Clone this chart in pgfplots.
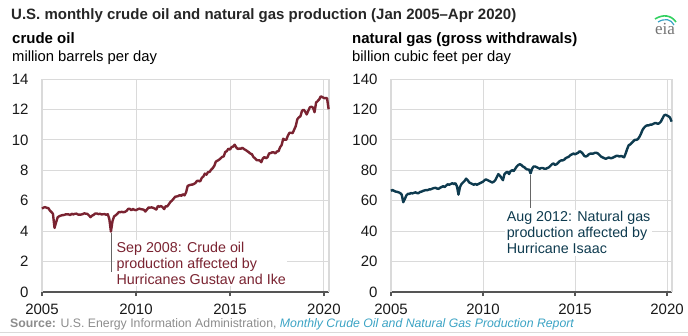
\documentclass[border=0pt]{standalone}
\usepackage{pgfplots}
\pgfplotsset{compat=1.18}
\usepackage{pgfplotstable}
\usepackage{fontspec}
\setmainfont{Liberation Sans}
\newfontfamily\seriffont{Liberation Serif}
\definecolor{oil}{HTML}{7A2331}
\definecolor{gas}{HTML}{0E3B4F}
\definecolor{gridc}{HTML}{DADADA}
\definecolor{axisc}{HTML}{555555}
\definecolor{srcgray}{HTML}{8C8C8C}
\definecolor{srcblue}{HTML}{3BA3C4}

\pgfplotstableread{
y m v
2005 1 5.48
2005 2 5.55
2005 3 5.58
2005 4 5.53
2005 5 5.52
2005 6 5.36
2005 7 5.26
2005 8 5.14
2005 9 4.21
2005 10 4.58
2005 11 4.91
2005 12 4.98
2006 1 5.02
2006 2 5.05
2006 3 5.06
2006 4 5.10
2006 5 5.11
2006 6 5.10
2006 7 5.06
2006 8 5.14
2006 9 5.10
2006 10 5.14
2006 11 5.15
2006 12 5.09
2007 1 5.09
2007 2 5.09
2007 3 5.12
2007 4 5.17
2007 5 5.15
2007 6 5.13
2007 7 5.03
2007 8 4.92
2007 9 5.02
2007 10 5.07
2007 11 5.16
2007 12 5.16
2008 1 5.12
2008 2 5.14
2008 3 5.10
2008 4 5.11
2008 5 5.12
2008 6 5.07
2008 7 5.12
2008 8 4.79
2008 9 3.97
2008 10 4.65
2008 11 4.96
2008 12 5.04
2009 1 5.13
2009 2 5.25
2009 3 5.25
2009 4 5.27
2009 5 5.24
2009 6 5.27
2009 7 5.33
2009 8 5.46
2009 9 5.47
2009 10 5.37
2009 11 5.46
2009 12 5.40
2010 1 5.38
2010 2 5.43
2010 3 5.48
2010 4 5.45
2010 5 5.43
2010 6 5.41
2010 7 5.29
2010 8 5.42
2010 9 5.55
2010 10 5.55
2010 11 5.56
2010 12 5.53
2011 1 5.48
2011 2 5.42
2011 3 5.65
2011 4 5.61
2011 5 5.65
2011 6 5.57
2011 7 5.45
2011 8 5.64
2011 9 5.63
2011 10 5.77
2011 11 5.92
2011 12 6.01
2012 1 6.13
2012 2 6.26
2012 3 6.28
2012 4 6.31
2012 5 6.37
2012 6 6.32
2012 7 6.43
2012 8 6.35
2012 9 6.55
2012 10 6.97
2012 11 7.02
2012 12 7.05
2013 1 7.06
2013 2 7.10
2013 3 7.17
2013 4 7.31
2013 5 7.30
2013 6 7.27
2013 7 7.50
2013 8 7.59
2013 9 7.78
2013 10 7.71
2013 11 7.88
2013 12 7.89
2014 1 8.04
2014 2 8.14
2014 3 8.29
2014 4 8.57
2014 5 8.63
2014 6 8.69
2014 7 8.78
2014 8 8.88
2014 9 8.91
2014 10 9.20
2014 11 9.26
2014 12 9.42
2015 1 9.36
2015 2 9.52
2015 3 9.56
2015 4 9.68
2015 5 9.51
2015 6 9.40
2015 7 9.43
2015 8 9.42
2015 9 9.48
2015 10 9.39
2015 11 9.34
2015 12 9.26
2016 1 9.19
2016 2 9.10
2016 3 9.06
2016 4 8.87
2016 5 8.79
2016 6 8.67
2016 7 8.66
2016 8 8.65
2016 9 8.53
2016 10 8.78
2016 11 8.87
2016 12 8.79
2017 1 8.86
2017 2 9.11
2017 3 9.13
2017 4 9.18
2017 5 9.18
2017 6 9.11
2017 7 9.24
2017 8 9.25
2017 9 9.51
2017 10 9.66
2017 11 10.07
2017 12 10.01
2018 1 10.01
2018 2 10.28
2018 3 10.46
2018 4 10.47
2018 5 10.44
2018 6 10.67
2018 7 10.90
2018 8 11.35
2018 9 11.48
2018 10 11.55
2018 11 11.91
2018 12 11.98
2019 1 11.87
2019 2 11.67
2019 3 11.91
2019 4 12.14
2019 5 12.18
2019 6 12.12
2019 7 11.82
2019 8 12.45
2019 9 12.55
2019 10 12.66
2019 11 12.86
2019 12 12.81
2020 1 12.75
2020 2 12.74
2020 3 12.74
2020 4 12.01
}\oiltable

\pgfplotstableread{
y m v
2005 1 66.5
2005 2 67.0
2005 3 66.5
2005 4 66.0
2005 5 65.8
2005 6 65.5
2005 7 65.0
2005 8 64.0
2005 9 59.0
2005 10 61.0
2005 11 63.5
2005 12 64.5
2006 1 64.5
2006 2 65.0
2006 3 64.8
2006 4 65.2
2006 5 65.5
2006 6 65.0
2006 7 65.0
2006 8 65.8
2006 9 66.0
2006 10 66.5
2006 11 66.8
2006 12 67.0
2007 1 67.0
2007 2 67.5
2007 3 67.5
2007 4 68.0
2007 5 68.3
2007 6 68.5
2007 7 68.0
2007 8 67.8
2007 9 68.5
2007 10 69.0
2007 11 69.5
2007 12 69.0
2008 1 70.0
2008 2 70.8
2008 3 70.5
2008 4 71.0
2008 5 71.5
2008 6 71.0
2008 7 71.5
2008 8 69.5
2008 9 64.0
2008 10 69.0
2008 11 71.0
2008 12 72.0
2009 1 73.0
2009 2 74.5
2009 3 73.5
2009 4 72.0
2009 5 71.5
2009 6 71.0
2009 7 70.5
2009 8 71.0
2009 9 70.5
2009 10 71.0
2009 11 71.5
2009 12 72.0
2010 1 72.5
2010 2 73.5
2010 3 74.0
2010 4 73.5
2010 5 73.0
2010 6 72.5
2010 7 72.0
2010 8 72.5
2010 9 73.5
2010 10 75.5
2010 11 77.5
2010 12 76.5
2011 1 75.0
2011 2 73.5
2011 3 77.5
2011 4 78.5
2011 5 79.0
2011 6 77.5
2011 7 79.5
2011 8 80.0
2011 9 79.5
2011 10 81.0
2011 11 82.5
2011 12 83.5
2012 1 84.0
2012 2 83.5
2012 3 82.5
2012 4 82.0
2012 5 81.0
2012 6 80.5
2012 7 80.5
2012 8 78.0
2012 9 81.0
2012 10 82.5
2012 11 82.5
2012 12 82.0
2013 1 81.5
2013 2 81.0
2013 3 81.5
2013 4 81.5
2013 5 81.0
2013 6 81.0
2013 7 81.5
2013 8 82.0
2013 9 83.0
2013 10 84.0
2013 11 84.5
2013 12 83.5
2014 1 84.0
2014 2 85.0
2014 3 86.0
2014 4 86.5
2014 5 86.5
2014 6 87.0
2014 7 88.0
2014 8 88.5
2014 9 89.0
2014 10 90.0
2014 11 90.5
2014 12 91.0
2015 1 90.5
2015 2 91.0
2015 3 91.5
2015 4 92.5
2015 5 92.0
2015 6 91.0
2015 7 89.5
2015 8 89.0
2015 9 89.5
2015 10 90.5
2015 11 91.0
2015 12 91.0
2016 1 91.0
2016 2 91.5
2016 3 91.5
2016 4 91.0
2016 5 90.0
2016 6 89.0
2016 7 88.5
2016 8 88.0
2016 9 87.5
2016 10 88.0
2016 11 88.5
2016 12 88.0
2017 1 88.0
2017 2 88.5
2017 3 89.0
2017 4 89.5
2017 5 89.5
2017 6 89.0
2017 7 89.5
2017 8 89.0
2017 9 88.5
2017 10 91.0
2017 11 94.0
2017 12 96.5
2018 1 97.0
2018 2 98.0
2018 3 99.0
2018 4 100.0
2018 5 100.0
2018 6 100.5
2018 7 102.0
2018 8 104.0
2018 9 106.5
2018 10 108.0
2018 11 109.0
2018 12 109.5
2019 1 109.5
2019 2 110.0
2019 3 110.0
2019 4 110.5
2019 5 111.0
2019 6 111.0
2019 7 110.5
2019 8 111.0
2019 9 112.0
2019 10 114.0
2019 11 116.0
2019 12 116.5
2020 1 116.0
2020 2 115.5
2020 3 114.5
2020 4 112.0
}\gastable

\pgfplotsset{
  eiastyle/.style={
    scale only axis,
    xmin=2005, xmax=2020.27,
    ymin=0,
    xtick={2005,2010,2015,2020},
    x tick label style={/pgf/number format/1000 sep=},
    /pgf/number format/assume math mode=true,
    tick label style={font=\fontsize{15}{17}\selectfont, text=black!90},
    grid=major,
    major grid style={gridc, line width=0.9pt},
    axis x line*=bottom,
    axis y line*=left,
    x axis line style={axisc, line width=1.2pt, -},
    y axis line style={gridc, line width=1.2pt, -},
    xtick pos=bottom,
    tick align=outside,
    major tick length=4pt,
    xtick style={axisc, line width=1.2pt},
    ytick style={draw=none},
    yticklabel style={xshift=-6pt},
    xticklabel style={yshift=-4pt},
    clip=false,
  }
}

\begin{document}
\begin{tikzpicture}[x=1pt,y=1pt]
\path[use as bounding box] (0,0) rectangle (688,335);

% titles
\node[anchor=base west, inner sep=0, font=\fontsize{15}{17}\selectfont\bfseries, text=black!85] at (11,315) {U.S. monthly crude oil and natural gas production (Jan 2005--Apr 2020)};
\node[anchor=base west, inner sep=0, font=\fontsize{15}{17}\selectfont\bfseries] at (12,291) {crude oil};
\node[anchor=base west, inner sep=0, font=\fontsize{14.8}{17}\selectfont] at (12,273) {million barrels per day};
\node[anchor=base west, inner sep=0, font=\fontsize{15}{17}\selectfont\bfseries] at (352,291) {natural gas (gross withdrawals)};
\node[anchor=base west, inner sep=0, font=\fontsize{14.8}{17}\selectfont] at (352,273) {billion cubic feet per day};

% eia logo
\node[anchor=base, inner sep=0, font=\seriffont\fontsize{17}{18}\selectfont, text=black!55] at (665,300) {eia};
\draw[green!55!teal!80, line width=1.6pt] (655,316) .. controls (663,321) and (671,320) .. (676,313);
\draw[srcblue, line width=1.2pt] (658,313) .. controls (665,317) and (671,316) .. (674,310);

% crude oil axis
\begin{axis}[eiastyle, at={(42pt,43pt)}, anchor=south west,
  width=287pt, height=213pt, ymax=14, ytick={0,2,...,14}]
  \draw[gridc, line width=1.2pt] (rel axis cs:1,0) -- (rel axis cs:1,1);
  \addplot[oil, line width=2.4pt, line join=round] table[x expr=\thisrow{y}+(\thisrow{m}-1)/12, y=v] {\oiltable};
  \draw[black!60, line width=0.8pt] (axis cs:2008.67,3.9) -- (axis cs:2008.67,1.3);
  \node[anchor=north west, fill=white, inner sep=1.5pt, align=left, text=oil,
    font=\fontsize{14.3}{16}\selectfont] at (axis cs:2008.88,3.4)
    {Sep 2008: Crude oil\\production affected by\\Hurricanes Gustav and Ike};
\end{axis}

% natural gas axis
\begin{axis}[eiastyle, at={(391pt,43pt)}, anchor=south west,
  width=281pt, height=213pt, ymax=140, ytick={0,20,...,140}]
  \draw[gridc, line width=1.2pt] (rel axis cs:1,0) -- (rel axis cs:1,1);
  \addplot[gas, line width=2.4pt, line join=round] table[x expr=\thisrow{y}+(\thisrow{m}-1)/12, y=v] {\gastable};
  \draw[black!60, line width=0.8pt] (axis cs:2012.6,77) -- (axis cs:2012.6,55);
  \node[anchor=north west, fill=white, inner sep=1.5pt, align=left, text=gas,
    font=\fontsize{14.3}{16}\selectfont] at (axis cs:2011.2,54)
    {Aug 2012: Natural gas\\production affected by\\Hurricane Isaac};
\end{axis}

% source
\node[anchor=base west, inner sep=0, font=\fontsize{12.3}{14}\selectfont, text=srcgray] at (10,8)
  {\textbf{Source:} U.S. Energy Information Administration, \textcolor{srcblue}{\itshape Monthly Crude Oil and Natural Gas Production Report}};
\draw[gridc, line width=0.8pt] (0,3) -- (688,3);
\end{tikzpicture}
\end{document}
